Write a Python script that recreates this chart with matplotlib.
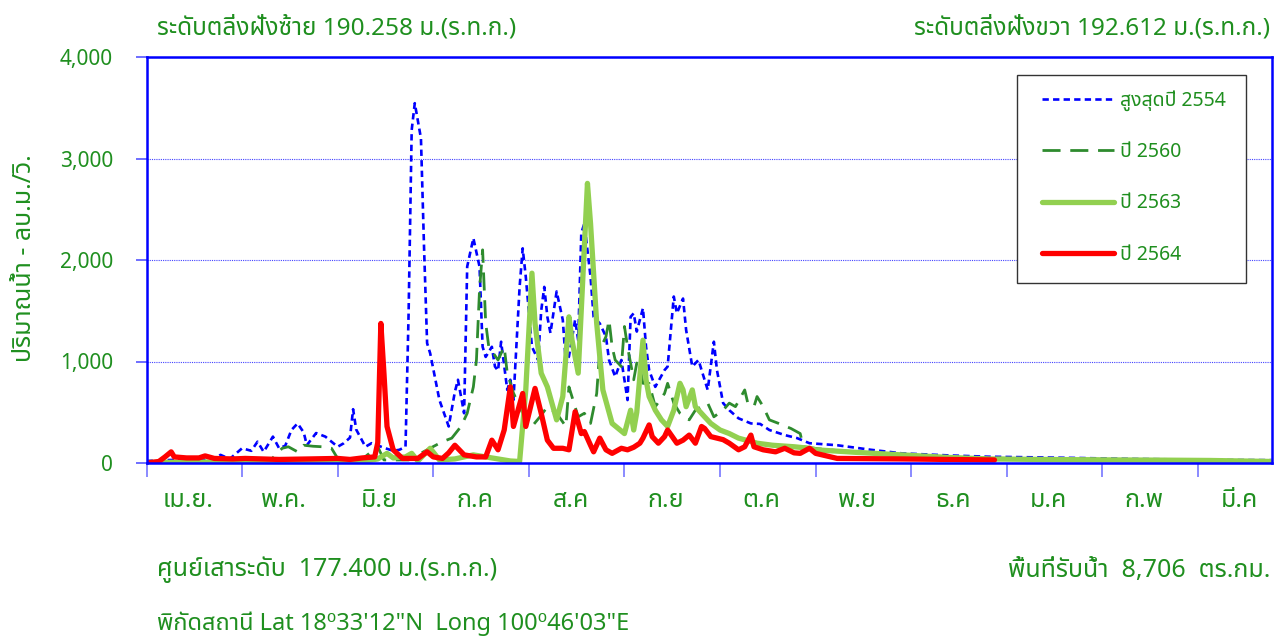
import matplotlib
matplotlib.use('Agg')
import matplotlib.pyplot as plt
from matplotlib import font_manager
from matplotlib.patches import Rectangle

# pick a font that can draw Thai
installed = set(f.name for f in font_manager.fontManager.ttflist)
thai = 'DejaVu Sans'
for name in ['Noto Sans Thai', 'IBM Plex Sans Thai', 'Anuphan', 'Sarabun']:
    if name in installed:
        thai = name
        break
plt.rcParams['font.family'] = [thai, 'DejaVu Sans']

# --- data: day of water year (0 = 1 Apr), discharge m3/s ---
days_2554 = [0, 8, 16, 22, 24, 27, 31, 34, 36, 38, 41, 43, 45, 47, 49, 51, 52, 55, 58, 60, 62, 64,
             66, 67, 68, 71, 73, 77, 80, 82, 84, 85, 86, 87, 89, 90, 91, 92, 95, 98, 100, 101, 103,
             104, 106, 108, 109, 110, 112, 113, 114, 115, 117, 118, 119, 121, 122, 123, 125, 127,
             128, 129, 130, 131, 133, 135, 136, 137, 139, 140, 141, 142, 144, 145, 147, 149, 150,
             152, 154, 156, 157, 158, 159, 161, 162, 163, 165, 168, 169, 171, 172, 174, 175, 177,
             179, 182, 184, 185, 187, 189, 192, 196, 199, 202, 207, 211, 215, 224, 235, 245, 260,
             273, 290, 301, 320, 335, 350, 365]
flow_2554 = [20, 30, 25, 40, 80, 40, 145, 120, 210, 110, 260, 145, 170, 325, 390, 300, 175, 295, 260,
             210, 160, 195, 250, 530, 330, 160, 195, 150, 120, 130, 160, 1475, 3280, 3545, 3200, 2130,
             1180, 1080, 620, 360, 700, 820, 490, 1935, 2215, 1935, 1145, 1045, 1145, 950, 910, 1195,
             720, 820, 620, 1735, 2115, 1835, 1145, 1015, 1500, 1735, 1440, 1280, 1690, 1410, 985,
             1050, 1410, 1210, 2265, 2360, 1835, 1440, 1375, 1245, 1015, 850, 1015, 620, 1440, 1475,
             1295, 1525, 1145, 915, 750, 915, 950, 1640, 1475, 1620, 1310, 950, 1015, 720, 1195, 915,
             590, 520, 440, 390, 385, 325, 275, 245, 195, 175, 130, 95, 75, 62, 55, 50, 40, 35, 30, 28]

days_2560 = [0, 20, 40, 44, 46, 49, 51, 54, 57, 60, 62, 65, 70, 75, 77, 85, 91, 96, 99, 102, 104,
             106, 107, 108, 109, 110, 111, 114, 116, 117, 119, 121, 123, 125, 128, 130, 133, 136, 137,
             140, 142, 144, 146, 147, 149, 150, 151, 152, 154, 155, 156, 158, 159, 160, 161, 163, 165,
             168, 169, 171, 173, 176, 178, 180, 182, 184, 187, 189, 191, 194, 195, 197, 198, 200, 202,
             205, 209, 212, 213, 218, 225, 240, 260, 280, 300, 330, 365]
flow_2560 = [10, 15, 20, 145, 160, 110, 175, 165, 160, 145, 45, 30, 40, 160, 30, 30, 130, 210, 245,
             360, 490, 750, 1015, 1705, 2100, 1380, 1145, 1015, 1145, 885, 690, 555, 425, 360, 470,
             555, 490, 360, 750, 455, 490, 390, 685, 1115, 1245, 1410, 1145, 1015, 950, 1345, 1145,
             820, 985, 950, 785, 785, 555, 685, 785, 590, 490, 425, 520, 555, 590, 455, 520, 590, 555,
             720, 590, 555, 655, 555, 425, 390, 340, 290, 160, 140, 120, 90, 60, 45, 40, 30, 20]

days_2563 = [0, 20, 40, 60, 70, 75, 78, 80, 84, 86, 88, 92, 95, 100, 106, 112, 118, 121, 123, 125,
             126, 128, 130, 133, 135, 137, 138, 140, 143, 144, 146, 148, 151, 155, 157, 158, 159, 161,
             162, 163, 165, 167, 169, 171, 173, 174, 175, 177, 178, 181, 183, 186, 189, 192, 198, 203,
             210, 215, 217, 230, 245, 260, 273, 290, 315, 330, 345, 365]
flow_2563 = [5, 10, 10, 10, 15, 40, 95, 50, 60, 95, 20, 145, 30, 40, 80, 50, 20, 15, 720, 1870, 1375,
             885, 750, 425, 655, 1440, 1210, 885, 2755, 2360, 1375, 720, 390, 290, 520, 325, 500, 1210,
             820, 655, 520, 425, 360, 520, 785, 720, 555, 720, 555, 455, 390, 325, 290, 245, 195, 175,
             160, 145, 130, 105, 80, 55, 40, 35, 30, 28, 25, 15]

days_2564 = [0, 4, 6, 8, 9, 13, 17, 19, 22, 28, 32, 43, 53, 62, 66, 70, 74, 75, 76, 77, 78, 80, 83,
             88, 91, 93, 96, 98, 100, 103, 107, 110, 112, 114, 116, 118, 119, 122, 123, 126, 128, 130,
             132, 135, 137, 139, 141, 142, 144, 145, 147, 149, 151, 154, 156, 158, 160, 161, 163, 164,
             166, 168, 169, 172, 174, 176, 178, 180, 181, 183, 185, 187, 189, 192, 194, 196, 197, 200,
             204, 207, 210, 212, 215, 217, 224, 245, 260, 275]
flow_2564 = [0, 15, 60, 110, 60, 50, 50, 70, 45, 40, 45, 35, 40, 45, 35, 50, 60, 200, 1375, 885, 360,
             130, 45, 45, 110, 60, 45, 100, 175, 80, 60, 60, 225, 130, 325, 750, 360, 685, 360, 735,
             490, 225, 145, 145, 130, 505, 290, 310, 175, 110, 245, 130, 95, 145, 130, 155, 195, 245,
             375, 260, 195, 260, 325, 195, 225, 275, 195, 360, 340, 260, 245, 230, 195, 130, 160, 275,
             160, 130, 110, 145, 100, 95, 145, 95, 45, 40, 35, 30]

months = ['เม.ย.', 'พ.ค.', 'มิ.ย', 'ก.ค', 'ส.ค', 'ก.ย', 'ต.ค', 'พ.ย', 'ธ.ค', 'ม.ค', 'ก.พ', 'มี.ค']
yticks = [0, 1000, 2000, 3000, 4000]

txt = '#1f8f1f'
blue = '#0000ff'

fig = plt.figure(figsize=(12.79, 6.41), dpi=100)
ax = fig.add_axes([146.5 / 1279, 1 - 463 / 641, 1125.5 / 1279, 406 / 641])

ax.plot(days_2554, flow_2554, color=blue, lw=1.9, ls=(0, (2.4, 1.6)), label='สูงสุดปี 2554', zorder=3)
ax.plot(days_2560, flow_2560, color='#2e8b2e', lw=2.0, ls=(0, (6.5, 3.5)), label='ปี 2560', zorder=3)
ax.plot(days_2563, flow_2563, color='#92d050', lw=3.8, solid_capstyle='round', label='ปี 2563', zorder=4)
ax.plot(days_2564, flow_2564, color='#ff0000', lw=3.8, solid_capstyle='round', label='ปี 2564', zorder=5)

ax.set_xlim(0, 365)
ax.set_ylim(0, 4000)

# axis frame and ticks
for s in ax.spines.values():
    s.set_color(blue)
    s.set_linewidth(1.8)
    s.set_zorder(6)
ax.set_yticks(yticks)
ax.set_yticklabels(['{:,}'.format(v) for v in yticks])
ax.tick_params(axis='y', colors='#5555ff', length=8, width=1.2, pad=16, labelsize=15, labelcolor=txt)
ax.set_xticks(range(0, 366, 31))
ax.set_xticklabels([])
ax.set_xticks([15.5 + 31 * i - 2 for i in range(12)], minor=True)
ax.set_xticklabels(months, minor=True)
ax.tick_params(axis='x', which='major', colors='#7777ff', length=10, width=1.2)
ax.tick_params(axis='x', which='minor', length=0, pad=18, labelsize=18, labelcolor=txt)
ax.grid(axis='y', color='#4444ff', ls=(0, (1, 1)), lw=0.8)

# legend box drawn separately so its padding can match
ax.add_patch(Rectangle((0.7734, 0.4433), 0.2035, 0.5124, transform=ax.transAxes,
                       facecolor='white', edgecolor='#333333', lw=1.0, zorder=7))
leg = ax.legend(loc='upper left', bbox_to_anchor=(0.7956, 0.918), borderaxespad=0, borderpad=0,
                fontsize=14, labelcolor=txt, handlelength=3.7, handletextpad=0.3,
                labelspacing=1.6, frameon=False)
leg.set_zorder(8)

# surrounding texts
fig.text(25 / 1279, 1 - 258 / 641, 'ปริมาณน้ำ - ลบ.ม./วิ.', rotation=90, color=txt,
         fontsize=18, ha='center', va='center')
fig.text(157 / 1279, 1 - 28 / 641, 'ระดับตลิ่งฝั่งซ้าย 190.258 ม.(ร.ท.ก.)', color=txt,
         fontsize=17.5, ha='left', va='center')
fig.text(1270 / 1279, 1 - 28 / 641, 'ระดับตลิ่งฝั่งขวา 192.612 ม.(ร.ท.ก.)', color=txt,
         fontsize=17.5, ha='right', va='center')
fig.text(157 / 1279, 1 - 570 / 641, 'ศูนย์เสาระดับ  177.400 ม.(ร.ท.ก.)', color=txt,
         fontsize=18, ha='left', va='center')
fig.text(1270 / 1279, 1 - 570 / 641, 'พื้นที่รับน้ำ  8,706  ตร.กม.', color=txt,
         fontsize=18, ha='right', va='center')
fig.text(157 / 1279, 1 - 624 / 641, 'พิกัดสถานี Lat 18⁰33\'12"N  Long 100⁰46\'03"E', color=txt,
         fontsize=17, ha='left', va='center')

fig.savefig('out.png', dpi=100)
